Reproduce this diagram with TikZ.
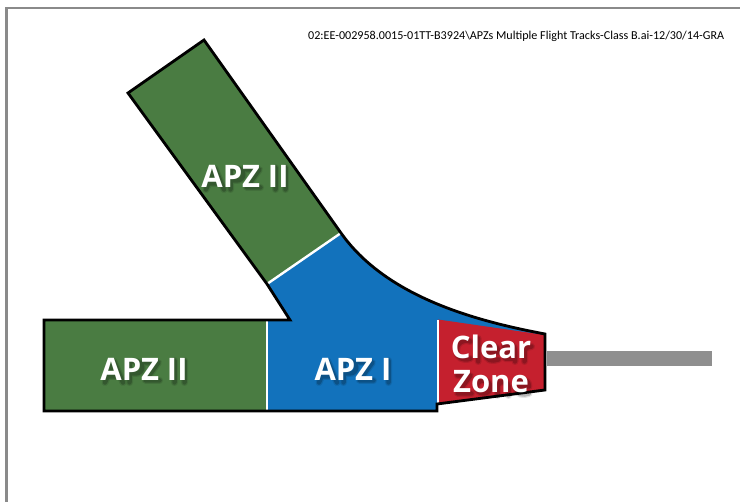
\documentclass[tikz,border=0pt]{standalone}
\usepackage{fontspec}
\setmainfont{Open Sans}
\newfontfamily\tagfont{Carlito}
\definecolor{apzgreen}{HTML}{4A7C42}
\definecolor{apzblue}{HTML}{1272BC}
\definecolor{czred}{HTML}{C5202E}
\definecolor{rwgray}{HTML}{8F8F8F}
\definecolor{framegray}{HTML}{8A8A8A}
\tikzset{
  outline/.style={draw=black,line width=2.8pt,line join=miter},
  divider/.style={draw=white,line width=2.4pt},
  zonelabel/.style={text=white,font=\bfseries\fontsize{31}{36}\selectfont,inner sep=0pt,align=center},
  softshadow/.style={draw=black,line width=7pt,draw opacity=0.10,line cap=round,line join=round},
  coreshadow/.style={draw=black,line width=4.5pt,draw opacity=0.20,line cap=round,line join=round},
}
% letter strokes for the soft shadows under the labels: argument = x,y of the baseline start
\newcommand{\glA}[1]{(#1) ++(2,0) -- ++(9,-21) -- ++(9,21) (#1) ++(6,-6) -- ++(10,0)}
\newcommand{\glP}[1]{(#1) ++(5,0) -- ++(0,-21) -- ++(6,0) .. controls +(9,0) and +(9,0) .. ++(0,12) -- ++(-6,0)}
\newcommand{\glZ}[1]{(#1) ++(2,-20) -- ++(13,0) -- ++(-13,18) -- ++(14,0)}
\newcommand{\glI}[1]{(#1) ++(5,0) -- ++(0,-22)}
\newcommand{\glC}[1]{(#1) ++(17,-20) .. controls +(-8,-3) and +(0,-7) .. ++(-14,9) .. controls +(0,7) and +(-8,3) .. ++(14,8)}
\newcommand{\gll}[1]{(#1) ++(5,0) -- ++(0,-23)}
\newcommand{\gle}[1]{(#1) ++(3,-9) -- ++(13,0) .. controls +(0,-9) and +(0,-9) .. ++(-13,0) .. controls +(0,9) and +(-6,2) .. ++(13,7)}
\newcommand{\gla}[1]{(#1) ++(3,-15) .. controls +(6,-3) and +(0,-6) .. ++(11,4) -- ++(0,11) (#1) ++(14,-9) .. controls +(-6,-1) and +(0,-3) .. ++(-11,4) .. controls +(0,5) and +(-3,-3) .. ++(11,3)}
\newcommand{\glr}[1]{(#1) ++(5,0) -- ++(0,-15) (#1) ++(5,-10) .. controls +(1,-4) and +(-3,0) .. ++(7,-5)}
\newcommand{\glo}[1]{(#1) ++(10,-15) .. controls +(-9,0) and +(-9,0) .. ++(0,13) .. controls +(9,0) and +(9,0) .. ++(0,-13)}
\newcommand{\gln}[1]{(#1) ++(5,0) -- ++(0,-15) (#1) ++(5,-10) .. controls +(2,-5) and +(0,-6) .. ++(11,1) -- ++(0,9)}
\newcommand{\softunder}[1]{%
  \begin{scope}[xshift=2.5pt,yshift=-2.5pt]
    \draw[softshadow] #1;
    \draw[coreshadow] #1;
  \end{scope}}
\begin{document}
\begin{tikzpicture}[x=1pt,y=-1pt]
\useasboundingbox (0,0) rectangle (740,502);
\fill[white] (0,0) rectangle (740,502);
% page frame
\draw[framegray,line width=2.6pt] (6.5,502) -- (6.5,8) -- (740,8);
% runway
\fill[rwgray] (547,351) rectangle (712,366);
% fills
\fill[apzgreen] (204,40) -- (128,93) -- (267,284) -- (341,233) -- cycle;
\fill[apzgreen] (44,320) rectangle (267,411);
\fill[apzblue] (341,233) .. controls (385,295) and (470,320) .. (545,334) -- (545,390) -- (437,404) -- (437,411) -- (267,411) -- (267,320) -- (290,320) -- (267,284) -- cycle;
\fill[czred] (438,319.5) -- (545,335) -- (545,390) -- (438,404) -- cycle;
% dividers
\draw[divider] (267,320) -- (267,410);
\draw[divider] (267,284) -- (341,233);
\draw[divider] (438,320) -- (438,404);
% outline
\draw[outline] (44,320) -- (290,320) -- (267,284) -- (128,93) -- (204,40) -- (341,233)
  .. controls (385,295) and (470,320) .. (545,334) -- (545,390) -- (437,404) -- (437,411) -- (44,411) -- cycle;
% label shadows
\softunder{\glA{201.5,187} \glP{223,187} \glZ{242,187} \glI{268,187} \glI{278,187}}
\softunder{\glA{100.5,380} \glP{122,380} \glZ{141,380} \glI{167,380} \glI{177,380}}
\softunder{\glA{314.5,380} \glP{336,380} \glZ{355,380} \glI{381,380}}
\softunder{\glC{451,359} \gll{470.7,359} \gle{480,359} \gla{498.5,359} \glr{517,359}}
\softunder{\glZ{453,393} \glo{471,393} \gln{490,393} \gle{510.5,393}}
% labels
\node[zonelabel] (labelA) at (245,176) {APZ II};
\node[zonelabel] (labelB) at (144,369) {APZ II};
\node[zonelabel] (labelC) at (353,369) {APZ I};
\node[zonelabel] (labelD) at (491,347) {Clear};
\node[zonelabel] (labelE) at (491,382) {Zone};
\node[anchor=west,inner sep=0pt,font=\tagfont\fontsize{12.1}{14}\selectfont] (tag) at (308,36.5) {02:EE-002958.0015-01TT-B3924\textbackslash APZs Multiple Flight Tracks-Class B.ai-12/30/14-GRA};
\end{tikzpicture}
\end{document}
